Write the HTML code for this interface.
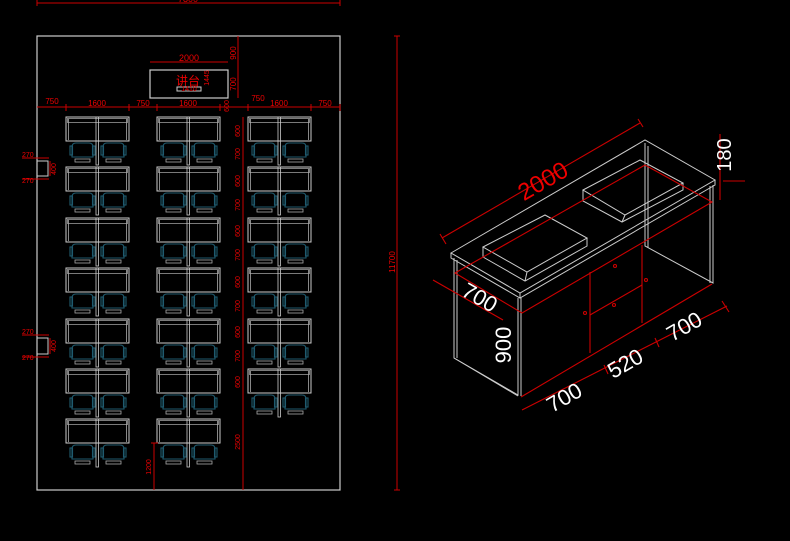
<!DOCTYPE html>
<html><head><meta charset="utf-8"><style>
html,body{margin:0;padding:0;background:#000;width:790px;height:541px;overflow:hidden}
svg{display:block}
text{font-family:"Liberation Sans","Noto Sans CJK SC",sans-serif;fill:#e00}
</style></head><body>
<svg width="790" height="541" viewBox="0 0 790 541" xmlns="http://www.w3.org/2000/svg">
<defs>
<g id="unit">
 <rect x="0" y="0" width="63" height="24" fill="none" stroke="#ccc" stroke-width="1"/>
 <rect x="1.5" y="1.5" width="60" height="4" fill="none" stroke="#999" stroke-width="0.8"/>
 <line x1="2.5" y1="2" x2="2.5" y2="23" stroke="#aaa" stroke-width="0.8"/>
 <line x1="60.5" y1="2" x2="60.5" y2="23" stroke="#aaa" stroke-width="0.8"/>
 <rect x="30" y="0" width="2.5" height="48" fill="none" stroke="#ccc" stroke-width="0.8"/>
 <g fill="none" stroke="#1f5a6e" stroke-width="1.1">
  <path d="M6 30 Q6 26 10 26 L23 26 Q27 26 27 30 L27 40 L6 40 Z"/>
  <rect x="4" y="29" width="2.5" height="9"/><rect x="26.5" y="29" width="2.5" height="9"/>
  <path d="M37 30 Q37 26 41 26 L54 26 Q58 26 58 30 L58 40 L37 40 Z"/>
  <rect x="35" y="29" width="2.5" height="9"/><rect x="57.5" y="29" width="2.5" height="9"/>
 </g>
 <rect x="9" y="42" width="15" height="3" fill="none" stroke="#aaa" stroke-width="0.8"/>
 <rect x="40" y="42" width="15" height="3" fill="none" stroke="#aaa" stroke-width="0.8"/>
</g>
</defs>
<!-- top dim -->
<line x1="37" y1="3" x2="340" y2="3" stroke="#c00" stroke-width="1"/>
<line x1="37" y1="0" x2="37" y2="6" stroke="#c00"/><line x1="340" y1="0" x2="340" y2="6" stroke="#c00"/>
<text x="188" y="2" font-size="9" text-anchor="middle">7800</text>
<!-- room -->
<rect x="37" y="36" width="303" height="454" fill="none" stroke="#ccc" stroke-width="1.2"/>
<!-- podium -->
<rect x="150" y="70" width="78" height="28" fill="none" stroke="#ccc" stroke-width="1.2"/>
<rect x="177" y="87" width="24" height="4" fill="none" stroke="#ccc" stroke-width="1"/>
<line x1="150" y1="62" x2="228" y2="62" stroke="#c00"/>
<text x="189" y="61" font-size="9" text-anchor="middle">2000</text>
<text x="176" y="85" font-size="12">讲台</text>
<text x="189" y="91" font-size="7" text-anchor="middle">1410</text>
<text x="209" y="78" font-size="7" transform="rotate(-90 209 78)" text-anchor="middle">1445</text>
<line x1="238" y1="36" x2="238" y2="98" stroke="#c00"/>
<text x="236" y="53" font-size="8" transform="rotate(-90 236 53)" text-anchor="middle">900</text>
<text x="236" y="84" font-size="8" transform="rotate(-90 236 84)" text-anchor="middle">700</text>
<!-- horizontal dims row -->
<line x1="37" y1="107" x2="340" y2="107" stroke="#c00"/>
<g stroke="#c00"><line x1="66" y1="104" x2="66" y2="111"/><line x1="129" y1="104" x2="129" y2="111"/><line x1="157" y1="104" x2="157" y2="111"/><line x1="220" y1="104" x2="220" y2="111"/><line x1="248" y1="104" x2="248" y2="111"/><line x1="311" y1="104" x2="311" y2="111"/><line x1="340" y1="104" x2="340" y2="111"/></g>
<g font-size="8" text-anchor="middle">
<text x="52" y="104">750</text><text x="97" y="106">1600</text><text x="143" y="106">750</text><text x="188" y="106">1600</text><text x="258" y="101">750</text><text x="279" y="106">1600</text><text x="325" y="106">750</text></g>
<text x="229" y="106" font-size="7" transform="rotate(-90 229 106)" text-anchor="middle">600</text>
<!-- desks -->
<g>
<use href="#unit" x="66" y="117"/><use href="#unit" x="157" y="117"/><use href="#unit" x="248" y="117"/>
<use href="#unit" x="66" y="167"/><use href="#unit" x="157" y="167"/><use href="#unit" x="248" y="167"/>
<use href="#unit" x="66" y="218"/><use href="#unit" x="157" y="218"/><use href="#unit" x="248" y="218"/>
<use href="#unit" x="66" y="268"/><use href="#unit" x="157" y="268"/><use href="#unit" x="248" y="268"/>
<use href="#unit" x="66" y="319"/><use href="#unit" x="157" y="319"/><use href="#unit" x="248" y="319"/>
<use href="#unit" x="66" y="369"/><use href="#unit" x="157" y="369"/><use href="#unit" x="248" y="369"/>
<use href="#unit" x="66" y="419"/><use href="#unit" x="157" y="419"/>
</g>
<!-- right column vertical dim -->
<line x1="243" y1="117" x2="243" y2="490" stroke="#c00"/>
<g font-size="7" text-anchor="middle">
<text x="240" y="131" transform="rotate(-90 240 131)">600</text><text x="240" y="154" transform="rotate(-90 240 154)">700</text>
<text x="240" y="181" transform="rotate(-90 240 181)">600</text><text x="240" y="205" transform="rotate(-90 240 205)">700</text>
<text x="240" y="231" transform="rotate(-90 240 231)">600</text><text x="240" y="255" transform="rotate(-90 240 255)">700</text>
<text x="240" y="282" transform="rotate(-90 240 282)">600</text><text x="240" y="306" transform="rotate(-90 240 306)">700</text>
<text x="240" y="332" transform="rotate(-90 240 332)">600</text><text x="240" y="356" transform="rotate(-90 240 356)">700</text>
<text x="240" y="382" transform="rotate(-90 240 382)">600</text>
<text x="240" y="442" transform="rotate(-90 240 442)">2500</text>
</g>
<line x1="154" y1="443" x2="154" y2="490" stroke="#c00"/><line x1="151" y1="443" x2="158" y2="443" stroke="#c00"/>
<text x="151" y="467" font-size="7" transform="rotate(-90 151 467)" text-anchor="middle">1200</text>
<!-- doors -->
<rect x="37" y="161" width="11" height="15" fill="none" stroke="#ccc"/>
<rect x="37" y="338" width="11" height="16" fill="none" stroke="#ccc"/>
<g stroke="#c00"><line x1="22" y1="158" x2="49" y2="158"/><line x1="22" y1="179" x2="49" y2="179"/><line x1="50" y1="161" x2="50" y2="176"/>
<line x1="22" y1="335" x2="49" y2="335"/><line x1="22" y1="357" x2="49" y2="357"/><line x1="50" y1="338" x2="50" y2="354"/></g>
<g font-size="7"><text x="22" y="157">270</text><text x="22" y="183">270</text><text x="22" y="334">270</text><text x="22" y="360">270</text></g>
<text x="56" y="169" font-size="7" transform="rotate(-90 56 169)" text-anchor="middle">400</text>
<text x="56" y="346" font-size="7" transform="rotate(-90 56 346)" text-anchor="middle">400</text>
<!-- 11700 -->
<line x1="397" y1="36" x2="397" y2="490" stroke="#c00"/>
<line x1="394" y1="36" x2="400" y2="36" stroke="#c00"/><line x1="394" y1="490" x2="400" y2="490" stroke="#c00"/>
<text x="395" y="262" font-size="8" transform="rotate(-90 395 262)" text-anchor="middle">11700</text>

<!-- ISOMETRIC DESK -->
<g fill="none" stroke="#ccc" stroke-width="1">
 <polygon points="451,253 645,140 715,180 520,293"/>
 <polyline points="451,253 451,258 520,298 715,185 715,180"/>
 <line x1="520" y1="293" x2="520" y2="298"/>
 <!-- left panel -->
 <polyline points="454,258 454,358 518,395 518,298"/>
 <line x1="457" y1="260" x2="457" y2="358"/>
 <line x1="454" y1="358" x2="518" y2="396"/>
 <line x1="521" y1="298" x2="521" y2="396"/>
 <!-- right panel -->
 <polyline points="645,143 645,246 713,283 713,185"/>
 <line x1="648" y1="146" x2="648" y2="248"/>
 <line x1="710" y1="186" x2="710" y2="283"/>
 <!-- sinks -->
 <polygon points="483,247 545,215 587,238 527,272"/>
 <polyline points="483,247 483,257 525,281 587,246 587,238"/>
 <line x1="527" y1="272" x2="525" y2="281"/>
 <polygon points="583,190 640,160 683,183 625,215"/>
 <polyline points="583,190 583,201 622,222 683,190 683,183"/>
 <line x1="625" y1="215" x2="622" y2="222"/>
</g>
<g fill="none" stroke="#c00" stroke-width="1.1">
 <polygon points="455,273 645,165 712,202 522,313"/>
 <line x1="521" y1="397" x2="712" y2="284"/>
 <line x1="590" y1="272" x2="590" y2="353"/>
 <line x1="642" y1="245" x2="642" y2="323"/>
 <line x1="590" y1="315" x2="642" y2="285"/>
 <circle cx="615" cy="266" r="1.5"/><circle cx="646" cy="280" r="1.5"/><circle cx="585" cy="313" r="1.5"/><circle cx="614" cy="305" r="1.5"/>
 <!-- dim lines -->
 <line x1="442" y1="238" x2="640" y2="123"/>
 <line x1="440" y1="234" x2="446" y2="244"/><line x1="638" y1="119" x2="643" y2="127"/>
 <line x1="433" y1="280" x2="503" y2="320"/>
 <line x1="522" y1="410" x2="727" y2="306"/>
 <line x1="604" y1="365" x2="608" y2="374"/><line x1="655" y1="338" x2="659" y2="347"/><line x1="722" y1="301" x2="729" y2="312"/>
 <line x1="720" y1="134" x2="720" y2="200"/><line x1="723" y1="181" x2="745" y2="181"/>
</g>
<text x="547" y="188" font-size="24" transform="rotate(-30 547 188)" text-anchor="middle">2000</text>
<text x="476" y="304" font-size="22" fill="#fff" style="fill:#fff" transform="rotate(30 476 304)" text-anchor="middle">700</text>
<text x="511" y="345" font-size="22" style="fill:#fff" transform="rotate(-90 511 345)" text-anchor="middle">900</text>
<text x="731" y="155" font-size="20" style="fill:#fff" transform="rotate(-90 731 155)" text-anchor="middle">180</text>
<text x="568" y="404" font-size="22" style="fill:#fff" transform="rotate(-30 568 404)" text-anchor="middle">700</text>
<text x="629" y="370" font-size="22" style="fill:#fff" transform="rotate(-30 629 370)" text-anchor="middle">520</text>
<text x="688" y="333" font-size="22" style="fill:#fff" transform="rotate(-30 688 333)" text-anchor="middle">700</text>
</svg>
</body></html>
